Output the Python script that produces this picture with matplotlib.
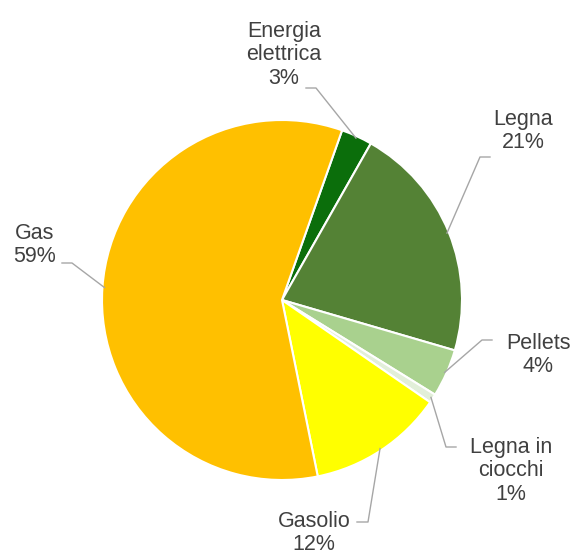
import numpy as np
import matplotlib.pyplot as plt

# Ripartizione dei combustibili per il riscaldamento
etichette = ['Energia\nelettrica', 'Legna', 'Pellets', 'Legna in\nciocchi', 'Gasolio', 'Gas']
valori = [2.8, 21.3, 4.3, 0.8, 12.2, 58.6]
colori = ['#0b6e0b', '#548235', '#a9d18e', '#e2efd9', '#ffff00', '#ffc000']

# posizioni dei testi e del gomito delle linee guida (pixel, y dall'alto)
pos_testo = [(284, 55), (523, 131), (538, 355), (511, 471), (314, 533), (35, 245)]
gomito = [(306, 88), (490, 157), (492, 340), (456, 447), (357, 522), (62, 263)]

W, H = 576, 554
cx, cy, R = 282, 300, 180

fig = plt.figure(figsize=(W / 100, H / 100), dpi=100)
ax = fig.add_axes([0, 0, 1, 1])

start = 70.5
wedges, _ = ax.pie(valori, colors=colori, startangle=start, counterclock=False,
                   center=(cx, H - cy), radius=R,
                   wedgeprops=dict(edgecolor='white', linewidth=1.5))

totale = sum(valori)
angolo = 90 - start  # gradi in senso orario dalle ore 12
for i, v in enumerate(valori):
    medio = angolo + v / totale * 360 / 2
    angolo += v / totale * 360
    t = np.deg2rad(medio)
    ax0 = cx + (R - 2) * np.sin(t)
    ay0 = cy - (R - 2) * np.cos(t)
    gx, gy = gomito[i]
    if i in (0, 5):
        ex = gx + 10
    elif i == 4:
        ex = gx + 11
    else:
        ex = gx - 10
    ax.plot([gx, ex, ax0], [H - gy, H - gy, H - ay0], color='#a6a6a6', lw=1)
    tx, ty = pos_testo[i]
    ax.text(tx, H - ty, '%s\n%d%%' % (etichette[i], round(v)), ha='center', va='center',
            fontsize=15.5, color='#404040', family='Liberation Sans', linespacing=1.15)

ax.set_xlim(0, W)
ax.set_ylim(0, H)
ax.set_aspect('equal')
ax.axis('off')

fig.savefig('out.png', dpi=100)
